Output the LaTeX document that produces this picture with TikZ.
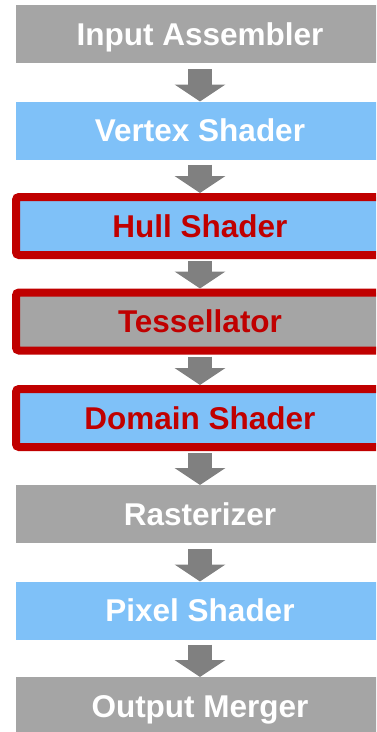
\documentclass[tikz,border=0pt]{standalone}
\usepackage{fontspec}
\setmainfont{Liberation Sans}
\usetikzlibrary{arrows.meta}
\definecolor{stagegray}{HTML}{A5A5A5}
\definecolor{stageblue}{HTML}{7FC1F8}
\definecolor{hilite}{HTML}{C00000}
\definecolor{flowgray}{HTML}{808080}
\begin{document}
\begin{tikzpicture}[x=1pt,y=-1pt,
  stage/.style={rectangle, minimum width=368pt, minimum height=58pt,
    inner sep=0pt, outer sep=0pt, text=white,
    text height=22.5pt, text depth=0pt,
    font=\fontsize{31.5}{32}\selectfont\bfseries},
  graystage/.style={stage, fill=stagegray},
  bluestage/.style={stage, fill=stageblue},
  newstage/.style={draw=hilite, line width=8pt, rounded corners=3pt,
    outer sep=4pt, text=hilite},
  flow/.style={draw=flowgray, line width=24pt,
    -{Triangle[width=50pt,length=17pt]}, shorten <=#1},
  flow/.default=6pt
]
\useasboundingbox (0,0) rectangle (376,732);
\clip (0,0) rectangle (376,732);

% pipeline stages
\node[graystage] (ia)  at (200,34)    {Input Assembler};
\node[bluestage] (vs)  at (200,130.5) {Vertex Shader};
\node[bluestage,newstage] (hs) at (200,226)   {Hull Shader};
\node[graystage,newstage] (ts) at (200,321.5) {Tessellator};
\node[bluestage,newstage] (ds) at (200,418)   {Domain Shader};
\node[graystage] (rs)  at (200,514)   {Rasterizer};
\node[bluestage] (ps)  at (200,610.5) {Pixel Shader};
\node[graystage] (om)  at (200,706)   {Output Merger};

% block arrows between stages
\draw[flow] (ia.south) -- (vs.north);
\draw[flow=5pt] (vs.south) -- (hs.north);
\draw[flow=2pt] (hs.south) -- (ts.north);
\draw[flow=2pt] (ts.south) -- (ds.north);
\draw[flow=2pt] (ds.south) -- (rs.north);
\draw[flow] (rs.south) -- (ps.north);
\draw[flow=5pt] (ps.south) -- (om.north);
\end{tikzpicture}
\end{document}
